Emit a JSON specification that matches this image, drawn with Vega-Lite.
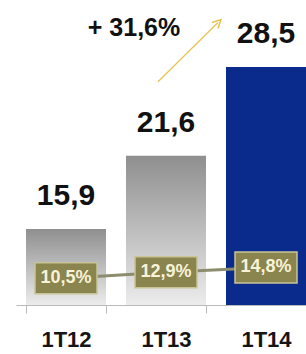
{
  "$schema": "https://vega.github.io/schema/vega-lite/v6.json",
  "width": 290,
  "height": 305,
  "autosize": {"type": "none"},
  "padding": {"left": 16, "top": 0, "right": 0, "bottom": 49},
  "background": "white",
  "config": {"view": {"stroke": null}, "font": "Liberation Sans"},
  "datasets": {
    "main": [
      {"q": "1T12", "v": 15.9, "vl": "15,9", "p": 10.5, "pl": "10,5%", "blue": false},
      {"q": "1T13", "v": 21.6, "vl": "21,6", "p": 12.9, "pl": "12,9%", "blue": false},
      {"q": "1T14", "v": 28.5, "vl": "28,5", "p": 14.8, "pl": "14,8%", "blue": true}
    ],
    "arrow": [{"x1": 1.42, "y1": 27.35, "x2": 2.02, "y2": 31.95}],
    "note": [{"x": 1.18, "y": 30.93, "t": "+ 31,6%"}]
  },
  "resolve": {"scale": {"x": "independent", "y": "independent"}},
  "layer": [
    {
      "data": {"name": "main"},
      "transform": [{"filter": "!datum.blue"}],
      "mark": {"type": "bar", "color": {"gradient": "linear", "x1": 0, "y1": 0, "x2": 0, "y2": 1, "stops": [{"offset": 0, "color": "#8f8f8f"}, {"offset": 1, "color": "#ececec"}]}},
      "encoding": {
        "x": {"field": "q", "type": "nominal", "scale": {"domain": ["1T12", "1T13", "1T14"], "range": [0, 300], "paddingInner": 0.2, "paddingOuter": 0.1},
          "axis": {"title": null, "labelAngle": 0, "labelFontSize": 22, "labelFontWeight": "bold", "labelColor": "#151515", "labelFont": "Liberation Sans", "tickBand": "extent", "tickSize": 8, "tickColor": "#bbbbbb", "domainColor": "#bbbbbb", "labelPadding": 16}},
        "y": {"field": "v", "type": "quantitative", "scale": {"domain": [10, 33.7], "zero": false}, "axis": null},
        "y2": {"datum": 10}
      }
    },
    {
      "data": {"name": "main"},
      "transform": [{"filter": "datum.blue"}],
      "mark": {"type": "bar", "color": "#0a2a8c"},
      "encoding": {
        "x": {"field": "q", "type": "nominal", "scale": {"domain": ["1T12", "1T13", "1T14"], "range": [0, 300], "paddingInner": 0.2, "paddingOuter": 0.1}, "axis": null},
        "y": {"field": "v", "type": "quantitative", "scale": {"domain": [10, 33.7], "zero": false}, "axis": null},
        "y2": {"datum": 10}
      }
    },
    {
      "data": {"name": "main"},
      "mark": {"type": "text", "fontSize": 30, "fontWeight": "bold", "color": "#111111", "baseline": "alphabetic", "dy": -24, "font": "Liberation Sans"},
      "encoding": {
        "x": {"field": "q", "type": "nominal", "scale": {"domain": ["1T12", "1T13", "1T14"], "range": [0, 300], "paddingInner": 0.2, "paddingOuter": 0.1}, "axis": null},
        "y": {"field": "v", "type": "quantitative", "scale": {"domain": [10, 33.7], "zero": false}, "axis": null},
        "text": {"field": "vl"}
      }
    },
    {
      "data": {"name": "main"},
      "mark": {"type": "line", "color": "#8c8c6e", "strokeWidth": 3},
      "encoding": {
        "x": {"field": "q", "type": "nominal", "scale": {"domain": ["1T12", "1T13", "1T14"], "range": [0, 300], "paddingInner": 0.2, "paddingOuter": 0.1}, "axis": null},
        "y": {"field": "p", "type": "quantitative", "scale": {"domain": [0, 120], "zero": false}, "axis": null}
      }
    },
    {
      "data": {"name": "main"},
      "mark": {"type": "point", "shape": "M-1,-0.5H1V0.5H-1Z", "size": 3844, "filled": true, "fill": "#8a844e", "stroke": "#c9c495", "strokeWidth": 1.5, "opacity": 1},
      "encoding": {
        "x": {"field": "q", "type": "nominal", "scale": {"domain": ["1T12", "1T13", "1T14"], "range": [0, 300], "paddingInner": 0.2, "paddingOuter": 0.1}, "axis": null},
        "y": {"field": "p", "type": "quantitative", "scale": {"domain": [0, 120], "zero": false}, "axis": null}
      }
    },
    {
      "data": {"name": "main"},
      "mark": {"type": "text", "fontSize": 18, "fontWeight": "bold", "color": "#f7f3d8", "baseline": "middle", "font": "Liberation Sans"},
      "encoding": {
        "x": {"field": "q", "type": "nominal", "scale": {"domain": ["1T12", "1T13", "1T14"], "range": [0, 300], "paddingInner": 0.2, "paddingOuter": 0.1}, "axis": null},
        "y": {"field": "p", "type": "quantitative", "scale": {"domain": [0, 120], "zero": false}, "axis": null},
        "text": {"field": "pl"}
      }
    },
    {
      "data": {"name": "arrow"},
      "mark": {"type": "rule", "color": "#e6c24c", "strokeWidth": 1.2},
      "encoding": {
        "x": {"field": "x1", "type": "quantitative", "scale": {"domain": [0, 3], "range": [0, 300]}, "axis": null},
        "y": {"field": "y1", "type": "quantitative", "scale": {"domain": [10, 33.7], "zero": false}, "axis": null},
        "x2": {"field": "x2"},
        "y2": {"field": "y2"}
      }
    },
    {
      "data": {"name": "arrow"},
      "mark": {"type": "point", "shape": "M-1,1L0,-1L1,1", "size": 70, "filled": false, "strokeWidth": 1.5, "color": "#e6c24c", "angle": 45, "opacity": 1},
      "encoding": {
        "x": {"field": "x2", "type": "quantitative", "scale": {"domain": [0, 3], "range": [0, 300]}, "axis": null},
        "y": {"field": "y2", "type": "quantitative", "scale": {"domain": [10, 33.7], "zero": false}, "axis": null}
      }
    },
    {
      "data": {"name": "note"},
      "mark": {"type": "text", "fontSize": 25, "fontWeight": "bold", "color": "#111111", "baseline": "alphabetic", "align": "center", "font": "Liberation Sans"},
      "encoding": {
        "x": {"field": "x", "type": "quantitative", "scale": {"domain": [0, 3], "range": [0, 300]}, "axis": null},
        "y": {"field": "y", "type": "quantitative", "scale": {"domain": [10, 33.7], "zero": false}, "axis": null},
        "text": {"field": "t"}
      }
    }
  ]
}
